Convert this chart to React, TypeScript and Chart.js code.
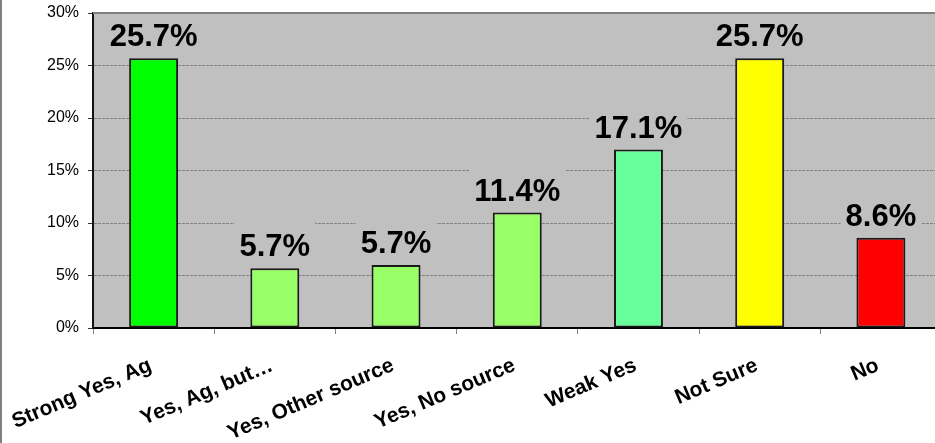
import React, { useEffect, useRef } from "react";
import { Chart, registerables } from "chart.js";

Chart.register(...registerables);

const categories = [
  "Strong Yes, Ag",
  "Yes, Ag, but…",
  "Yes, Other source",
  "Yes, No source",
  "Weak Yes",
  "Not Sure",
  "No",
];
const barValues = [25.7, 5.7, 6.0, 11.0, 17.0, 25.7, 8.6];
const barLabels = ["25.7%", "5.7%", "5.7%", "11.4%", "17.1%", "25.7%", "8.6%"];
const barColors = ["#00FF00", "#99FF66", "#99FF66", "#99FF66", "#66FF99", "#FFFF00", "#FF0000"];
const yMin = 0;
const yMax = 30;
const yStep = 5;

const FONT = '"Liberation Sans", Arial, Helvetica, sans-serif';
const PLOT_BG = "#C0C0C0";

const plotPlugin = {
  id: "plotDecor",
  beforeDraw(chart: any) {
    const { ctx, chartArea: a } = chart;
    ctx.save();
    ctx.fillStyle = PLOT_BG;
    ctx.fillRect(a.left, a.top, a.right - a.left, a.bottom - a.top);
    ctx.restore();
  },
  afterDatasetsDraw(chart: any) {
    const { ctx } = chart;
    const meta = chart.getDatasetMeta(0);
    ctx.save();
    ctx.font = `bold 31px ${FONT}`;
    ctx.textAlign = "center";
    ctx.textBaseline = "alphabetic";
    meta.data.forEach((el: any, i: number) => {
      const text = barLabels[i];
      const w = ctx.measureText(text).width;
      const base = el.y - 12;
      const capTop = base - 23;
      ctx.fillStyle = PLOT_BG;
      ctx.fillRect(el.x - w / 2 - 5, capTop - 11, w + 10, base + 6 - (capTop - 11));
      ctx.fillStyle = "#000";
      ctx.fillText(text, el.x, base);
    });
    ctx.restore();
  },
  afterDraw(chart: any) {
    const { ctx, chartArea: a } = chart;
    ctx.save();
    ctx.strokeStyle = "#808080";
    ctx.lineWidth = 2;
    ctx.beginPath();
    ctx.moveTo(a.left, a.top);
    ctx.lineTo(a.right, a.top);
    ctx.stroke();
    ctx.restore();
  },
};

export default function App() {
  const ref = useRef<HTMLCanvasElement | null>(null);

  useEffect(() => {
    document.body.style.margin = "0";
    const canvas = ref.current;
    if (!canvas) return;
    const chart = new Chart(canvas, {
      type: "bar",
      data: {
        labels: categories,
        datasets: [
          {
            data: barValues,
            backgroundColor: barColors,
            borderColor: "#1a1a1a",
            borderWidth: 2,
            borderSkipped: false,
            barPercentage: 0.404,
            categoryPercentage: 1,
          },
        ],
      },
      options: {
        responsive: false,
        animation: false,
        devicePixelRatio: 1,
        layout: { padding: { top: 13, right: 8.5, left: 0, bottom: 0 } },
        plugins: {
          legend: { display: false },
          tooltip: { enabled: false },
          title: { display: false },
        },
        scales: {
          x: {
            grid: {
              display: true,
              drawOnChartArea: false,
              offset: true,
              tickLength: 6,
              tickColor: "#808080",
            },
            border: { display: true, color: "#000", width: 2 },
            ticks: {
              autoSkip: false,
              maxRotation: 23,
              minRotation: 23,
              padding: 19,
              labelOffset: -3,
              color: "#000",
              font: { family: FONT, size: 21, weight: "bold" },
            },
            afterFit(scale: any) {
              scale.height = 115;
              scale.paddingLeft = 0;
              scale.paddingRight = 0;
            },
          },
          y: {
            min: yMin,
            max: yMax,
            ticks: {
              stepSize: yStep,
              padding: 9,
              color: "#000",
              font: { family: FONT, size: 16 },
              callback: (v: any) => `${v}%`,
            },
            grid: {
              color: (c: any) => (c.tick && c.tick.value === yMax ? "rgba(0,0,0,0)" : "#808080"),
              lineWidth: 1,
              tickLength: 5,
              tickColor: "#333",
            },
            border: { display: true, color: "#111", width: 2, dash: [3, 1] },
            afterFit(scale: any) {
              scale.width = 93;
              scale.paddingTop = 0;
              scale.paddingBottom = 0;
            },
          },
        },
      },
      plugins: [plotPlugin],
    });
    return () => chart.destroy();
  }, []);

  return (
    <div
      style={{
        position: "relative",
        width: 935,
        height: 443,
        overflow: "hidden",
        background: "#fff",
      }}
    >
      <canvas ref={ref} width={950} height={443} style={{ display: "block" }} />
      <div
        style={{
          position: "absolute",
          left: 0,
          top: 0,
          width: 2,
          height: 443,
          background: "#808080",
        }}
      />
    </div>
  );
}
